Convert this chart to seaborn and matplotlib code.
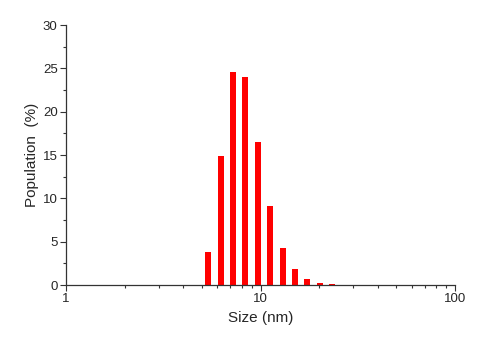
import matplotlib
matplotlib.use("Agg")
import matplotlib.pyplot as plt
import seaborn as sns
import numpy as np
from matplotlib.ticker import LogLocator, FixedLocator, NullFormatter, FuncFormatter

size_nm = [5.37, 6.24, 7.19, 8.35, 9.71, 11.23, 13.05, 15.04, 17.4, 20.2, 23.3]
population = [3.84, 14.88, 24.58, 23.96, 16.46, 9.11, 4.31, 1.81, 0.69, 0.27, 0.08]
x_ticks = [1, 10, 100]
x_tick_labels = ["1", "10", "100"]
y_ticks = [0, 5, 10, 15, 20, 25, 30]

sns.set_style("ticks")
plt.rcParams['font.family'] = ['Liberation Sans', 'DejaVu Sans']

fig = plt.figure(figsize=(5, 3.46), dpi=100)
ax = fig.add_axes([0.132, 0.1763, 0.778, 0.7514])

sns.barplot(x=size_nm, y=population, native_scale=True, log_scale=(True, False),
            width=0.5, color="#FF0000", saturation=1, linewidth=0, ax=ax)

ax.set_xlim(1, 100)
ax.set_ylim(0, 30)
ax.xaxis.set_major_locator(FixedLocator(x_ticks))
ax.xaxis.set_major_formatter(FuncFormatter(lambda v, p: dict(zip(x_ticks, x_tick_labels)).get(int(round(v)), "")))
ax.xaxis.set_minor_locator(LogLocator(base=10, subs=np.arange(2, 10)))
ax.xaxis.set_minor_formatter(NullFormatter())
ax.set_yticks(y_ticks)
ax.yaxis.set_minor_locator(FixedLocator(np.arange(0, 30.1, 2.5)))

for s in ["top", "right"]:
    ax.spines[s].set_visible(False)
for s in ["left", "bottom"]:
    ax.spines[s].set_color("#333333")
    ax.spines[s].set_linewidth(0.9)

ax.tick_params(which="major", direction="out", length=4, width=0.8, color="#333333", labelsize=9.5, pad=2)
ax.tick_params(which="minor", direction="out", length=2.5, width=0.8, color="#333333")

ax.set_xlabel("Size (nm)", fontsize=11, labelpad=4)
ax.set_ylabel("Population  (%)", fontsize=11, labelpad=3)

fig.savefig("out.png", dpi=100)
